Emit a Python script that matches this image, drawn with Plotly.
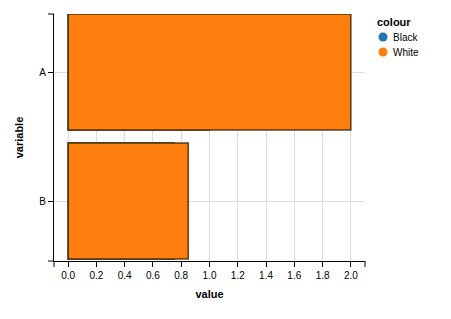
import plotly.graph_objects as go

categories = ["A", "B"]
colours = ["Black", "White"]
black_values = [1.0, 0.75]
white_values = [2.0, 0.85]
colour_map = {"Black": "#1f77b4", "White": "#ff7f0e"}
x_ticks = [0.0, 0.2, 0.4, 0.6, 0.8, 1.0, 1.2, 1.4, 1.6, 1.8, 2.0]

fig = go.Figure()
for name, vals in [("Black", black_values), ("White", white_values)]:
    fig.add_trace(go.Bar(
        y=categories, x=vals, orientation="h", name=name, width=0.9,
        marker=dict(color=colour_map[name], line=dict(color="rgba(30,20,0,0.75)", width=1.5)),
        showlegend=False,
    ))

font = "Liberation Sans, Arial, sans-serif"
W, H = 451, 319
L, R, T, B = 54, 86, 14, 58
pw, ph = W - L - R, H - T - B

fig.update_layout(
    width=W, height=H,
    margin=dict(l=L, r=R, t=T, b=B),
    barmode="overlay", showlegend=False,
    plot_bgcolor="white", paper_bgcolor="white",
    font=dict(family=font, size=10, color="#000"),
    xaxis=dict(
        range=[-0.1, 2.1], tickvals=x_ticks, ticktext=[f"{v:.1f}" for v in x_ticks],
        showgrid=True, gridcolor="#dddddd", zeroline=False,
        showline=True, linecolor="#000", linewidth=1,
        ticks="outside", ticklen=5, tickcolor="#000",
        title=dict(text="<b>value</b>", font=dict(size=11), standoff=10),
    ),
    yaxis=dict(
        categoryorder="array", categoryarray=categories,
        range=[1.465, -0.45],
        showgrid=True, gridcolor="#dddddd", zeroline=False,
        showline=True, linecolor="#000", linewidth=1,
        ticks="outside", ticklen=5, tickcolor="#000",
        title=dict(text="<b>variable</b>", font=dict(size=11), standoff=13),
    ),
)

def px_x(p):
    return (p - L) / pw

def px_y(p):
    return 1 - (p - T) / ph

# axis domain end caps
for yy in (0, 1):
    fig.add_shape(type="line", xref="paper", yref="paper", x0=-6 / pw, x1=0, y0=yy, y1=yy,
                  line=dict(color="#000", width=1))
for xx in (0, 1):
    fig.add_shape(type="line", xref="paper", yref="paper", x0=xx, x1=xx, y0=0, y1=-6 / ph,
                  line=dict(color="#000", width=1))

# legend
fig.add_annotation(text="<b>colour</b>", xref="paper", yref="paper", x=px_x(375), y=px_y(22),
                   xanchor="left", yanchor="middle", showarrow=False, font=dict(size=11, family=font))
for i, name in enumerate(colours):
    cy = 37 + 15 * i
    cx = 383
    fig.add_shape(type="circle", xref="paper", yref="paper",
                  x0=px_x(cx - 4.5), x1=px_x(cx + 4.5), y0=px_y(cy + 4.5), y1=px_y(cy - 4.5),
                  fillcolor=colour_map[name], line=dict(width=0))
    fig.add_annotation(text=name, xref="paper", yref="paper", x=px_x(391), y=px_y(cy),
                       xanchor="left", yanchor="middle", showarrow=False, font=dict(size=10, family=font))

fig.write_html("out.html")
